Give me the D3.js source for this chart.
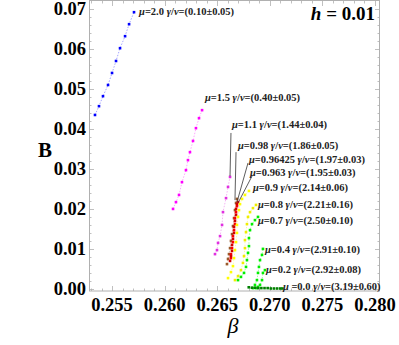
<!DOCTYPE html>
<html>
<head>
<meta charset="utf-8">
<script src="https://cdn.jsdelivr.net/npm/d3@7"></script>
<style>
  body { margin: 0; background: #fff; }
  svg { display: block; font-family: "Liberation Serif", "DejaVu Serif", serif; }
</style>
</head>
<body>
<svg id="chart" width="399" height="345"></svg>
<script>
// series values, one pair of arrays per mu
let beta20 = [0.25338, 0.25376, 0.25414, 0.25462, 0.25500, 0.25538, 0.25576, 0.25624, 0.25662, 0.25709],
    B20 = [0.0434, 0.0456, 0.0481, 0.0509, 0.0539, 0.0569, 0.0601, 0.0631, 0.0661, 0.0691];
let beta15 = [0.26080, 0.26108, 0.26137, 0.26165, 0.26203, 0.26222, 0.26241, 0.26270, 0.26298, 0.26327, 0.26356],
    B15 = [0.0199, 0.0216, 0.0234, 0.0266, 0.0296, 0.0321, 0.0341, 0.0369, 0.0401, 0.0426, 0.0446];
let beta11 = [0.26479, 0.26498, 0.26508, 0.26527, 0.26546, 0.26555, 0.26584, 0.26603, 0.26622],
    B11 = [0.0086, 0.0096, 0.0114, 0.0131, 0.0159, 0.0191, 0.0226, 0.0254, 0.0279];
let beta098 = [0.26593, 0.26603, 0.26612, 0.26622, 0.26631, 0.26641, 0.26650, 0.26660, 0.26669, 0.26679, 0.26688],
    B098 = [0.0061, 0.0074, 0.0086, 0.0101, 0.0119, 0.0136, 0.0156, 0.0176, 0.0196, 0.0214, 0.0224];
let beta096425 = [0.26631, 0.26631, 0.26641, 0.26650, 0.26650, 0.26660, 0.26669, 0.26669, 0.26679, 0.26688, 0.26698],
    B096425 = [0.0076, 0.0086, 0.0101, 0.0116, 0.0131, 0.0146, 0.0161, 0.0176, 0.0191, 0.0206, 0.0216];
let beta0963 = [0.26622, 0.26631, 0.26641, 0.26641, 0.26650, 0.26660, 0.26660, 0.26669, 0.26679, 0.26679, 0.26688],
    B0963 = [0.0069, 0.0081, 0.0094, 0.0109, 0.0124, 0.0139, 0.0154, 0.0169, 0.0184, 0.0199, 0.0211];
let beta09 = [0.26603, 0.26631, 0.26650, 0.26660, 0.26669, 0.26679, 0.26688, 0.26688, 0.26698, 0.26707, 0.26717, 0.26736, 0.26764, 0.26802],
    B09 = [0.0026, 0.0041, 0.0056, 0.0076, 0.0096, 0.0116, 0.0139, 0.0159, 0.0179, 0.0196, 0.0211, 0.0224, 0.0234, 0.0244];
let beta08 = [0.26669, 0.26698, 0.26726, 0.26745, 0.26755, 0.26764, 0.26764, 0.26774, 0.26783, 0.26793, 0.26812, 0.26840, 0.26869],
    B08 = [0.0021, 0.0031, 0.0046, 0.0064, 0.0081, 0.0101, 0.0121, 0.0141, 0.0161, 0.0179, 0.0191, 0.0201, 0.0209];
let beta07 = [0.26698, 0.26726, 0.26755, 0.26774, 0.26783, 0.26793, 0.26802, 0.26802, 0.26812, 0.26831, 0.26859, 0.26888],
    B07 = [0.0021, 0.0029, 0.0039, 0.0054, 0.0071, 0.0089, 0.0106, 0.0126, 0.0146, 0.0161, 0.0171, 0.0179];
let beta04 = [0.26840, 0.26859, 0.26878, 0.26888, 0.26897, 0.26907, 0.26926, 0.26935],
    B04 = [0.0001, 0.0009, 0.0021, 0.0039, 0.0054, 0.0071, 0.0084, 0.0099];
let beta02 = [0.26869, 0.26888, 0.26907, 0.26926, 0.26935, 0.26954],
    B02 = [0.0001, 0.0004, 0.0009, 0.0021, 0.0039, 0.0046];
let beta00 = [0.2680, 0.2683, 0.2686, 0.2689, 0.2692, 0.2695, 0.2698, 0.2701, 0.2704, 0.2707, 0.2710, 0.2712],
    B00 = [0.0003, 0.0002, 0.0002, 0.0001, 0.0001, 0.0001, 0.0001, 0.0000, 0.0000, 0.0000, 0.0000, 0.0000];

let muLabels = ['2.0', '1.5', '1.1', '0.98', '0.96425', '0.963', '0.9', '0.8', '0.7', '0.4', '0.2', '0.0'],
    gammaNu = ['0.10±0.05', '0.40±0.05', '1.44±0.04', '1.86±0.05', '1.97±0.03', '1.95±0.03',
               '2.14±0.06', '2.21±0.16', '2.50±0.10', '2.91±0.10', '2.92±0.08', '3.19±0.60'];

let xTicks = [0.255, 0.260, 0.265, 0.270, 0.275, 0.280],
    yTicks = [0.00, 0.01, 0.02, 0.03, 0.04, 0.05, 0.06, 0.07];

let betas = [beta20, beta15, beta11, beta098, beta096425, beta0963, beta09, beta08, beta07, beta04, beta02, beta00],
    Bs = [B20, B15, B11, B098, B096425, B0963, B09, B08, B07, B04, B02, B00];

let color = ['#0000ff', '#ff00ff', '#e030e0', '#9a5a2a', '#ff0000', '#d00000',
             '#ffff00', '#eeee00', '#00ee00', '#00ee00', '#00ee00', '#008000'];

// where each label starts (beta, B of its baseline)
let labelPos = [[0.25757, 0.06838], [0.26384, 0.04688], [0.26641, 0.04013], [0.26698, 0.03488],
                [0.26802, 0.03138], [0.26812, 0.02813], [0.26840, 0.02438], [0.26888, 0.02013],
                [0.26888, 0.01613], [0.26954, 0.00888], [0.26964, 0.00388], [0.27125, -0.00038]];

// pointer lines for the crowded labels
let pointers = [[[0.26631, 0.0389], [0.26622, 0.0281]],
                [[0.26679, 0.0341], [0.26669, 0.0221]],
                [[0.26793, 0.0314], [0.26688, 0.0216]],
                [[0.26831, 0.0281], [0.26698, 0.0214]]];

let svg = d3.select('#chart'),
    x = d3.scaleLinear().domain([0.25281, 0.28048]).range([89, 380]),
    y = d3.scaleLinear().domain([-0.000625, 0.0719]).range([291, 1]);

// frame
svg.append('rect')
   .attr('x', 89.5).attr('y', 0.5)
   .attr('width', 290).attr('height', 290.5)
   .attr('fill', 'none').attr('stroke', '#b0b0b0').attr('stroke-width', 1);

let xMinor = d3.range(0.253, 0.2805, 0.001),
    yMinor = d3.range(0, 0.0715, 0.002);

let tickG = svg.append('g').attr('stroke', '#b0b0b0').attr('stroke-width', 0.8);
xMinor.forEach(v => {
    let major = xTicks.some(t => Math.abs(t - v) < 1e-6),
        len = major ? 5 : 2.5,
        px = Math.round(x(v)) + 0.5;
    tickG.append('line').attr('x1', px).attr('x2', px).attr('y1', 291).attr('y2', 291 - len);
    tickG.append('line').attr('x1', px).attr('x2', px).attr('y1', 1).attr('y2', 1 + len);
});
yMinor.forEach(v => {
    let major = yTicks.some(t => Math.abs(t - v) < 1e-6),
        len = major ? 5 : 2.5,
        py = Math.round(y(v)) + 0.5;
    tickG.append('line').attr('x1', 89).attr('x2', 89 + len).attr('y1', py).attr('y2', py);
    tickG.append('line').attr('x1', 380).attr('x2', 380 - len).attr('y1', py).attr('y2', py);
});

// tick labels
svg.append('g').selectAll('text')
   .data(xTicks).enter().append('text')
   .attr('x', d => x(d)).attr('y', 311)
   .attr('text-anchor', 'middle')
   .attr('font-size', 18.5).attr('font-weight', 'bold')
   .text(d => d3.format('.3f')(d));

svg.append('g').selectAll('text')
   .data(yTicks).enter().append('text')
   .attr('x', 86).attr('y', d => y(d) + 6.5)
   .attr('text-anchor', 'end')
   .attr('font-size', 18.5).attr('font-weight', 'bold')
   .text(d => d3.format('.2f')(d));

// axis titles
svg.append('text').attr('x', 45).attr('y', 157)
   .attr('text-anchor', 'middle').attr('font-size', 21).attr('font-weight', 'bold')
   .text('B');
svg.append('text').attr('x', 233).attr('y', 333)
   .attr('text-anchor', 'middle').attr('font-size', 22).attr('font-style', 'italic')
   .text('β');

let hText = svg.append('text').attr('x', 375).attr('y', 20)
   .attr('text-anchor', 'end').attr('font-size', 19).attr('font-weight', 'bold');
hText.append('tspan').attr('font-style', 'italic').text('h');
hText.append('tspan').text(' = 0.01');

// series
let line = d3.line().x(d => x(d[0])).y(d => y(d[1]));
betas.forEach((bs, i) => {
    let pts = bs.map((b, j) => [b, Bs[i][j]]);
    svg.append('path')
       .attr('d', line(pts))
       .attr('fill', 'none')
       .attr('stroke', color[i]).attr('stroke-opacity', 0.45)
       .attr('stroke-width', 0.8).attr('stroke-dasharray', '1.5,1.5');
    svg.append('g').selectAll('rect')
       .data(pts).enter().append('rect')
       .attr('x', d => x(d[0]) - 1.3).attr('y', d => y(d[1]) - 1.3)
       .attr('width', 2.6).attr('height', 2.6)
       .attr('fill', color[i]);
});

// pointer lines
pointers.forEach(p => {
    svg.append('line')
       .attr('x1', x(p[0][0])).attr('y1', y(p[0][1]))
       .attr('x2', x(p[1][0])).attr('y2', y(p[1][1]))
       .attr('stroke', '#333').attr('stroke-width', 0.8);
});

// labels
muLabels.forEach((m, i) => {
    let t = svg.append('text')
       .attr('x', x(labelPos[i][0])).attr('y', y(labelPos[i][1]))
       .attr('font-size', 10.5).attr('font-weight', 'bold').attr('fill', '#222');
    t.append('tspan').attr('font-style', 'italic').text('μ');
    t.append('tspan').text((m === '0.0' ? ' =' : '=') + m + ' ');
    t.append('tspan').attr('font-style', 'italic').text('γ');
    t.append('tspan').text('/');
    t.append('tspan').attr('font-style', 'italic').text('ν');
    t.append('tspan').text('=(' + gammaNu[i] + ')');
});
</script>
</body>
</html>
